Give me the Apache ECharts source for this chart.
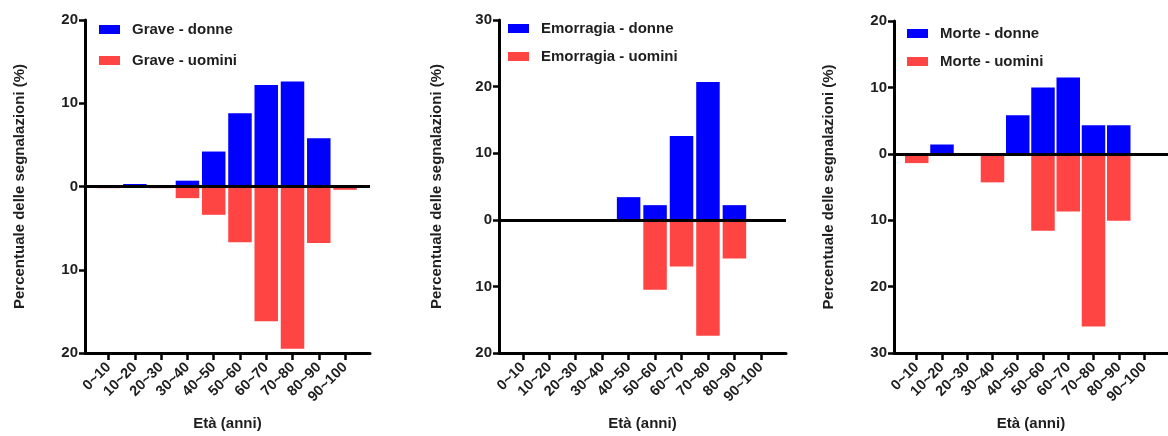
<!DOCTYPE html>
<html>
<head>
<meta charset="utf-8">
<script src="https://cdn.jsdelivr.net/npm/echarts@6/dist/echarts.min.js"></script>
<style>
html,body{margin:0;padding:0;background:#fff;}
#chart{width:1168px;height:436px;}
</style>
</head>
<body>
<div id="chart"></div>
<script>
// ---- data ----
var ageCats = ['0~10','10~20','20~30','30~40','40~50','50~60','60~70','70~80','80~90','90~100'];
var yTicksGrave = [-20, -10, 0, 10, 20];
var yTicksEmorragia = [-20, -10, 0, 10, 20, 30];
var yTicksMorte = [-30, -20, -10, 0, 10, 20];

var graveDonne  = [0.1, 0.3, 0.0, 0.7, 4.2, 8.8, 12.2, 12.6, 5.8, 0.0];
var graveUomini = [0.2, 0.1, 0.2, 1.4, 3.4, 6.7, 16.2, 19.5, 6.8, 0.4];

var emorragiaDonne  = [0, 0, 0, 0, 3.4, 2.2, 12.6, 20.7, 2.2, 0];
var emorragiaUomini = [0, 0, 0, 0, 0, 10.5, 7.0, 17.4, 5.8, 0];

var morteDonne  = [0, 1.4, 0, 0, 5.8, 10.0, 11.5, 4.3, 4.3, 0];
var morteUomini = [1.4, 0, 0, 4.3, 0, 11.6, 8.7, 26.0, 10.1, 0];

var panelNames = ['Grave', 'Emorragia', 'Morte'];

// ---- styles ----
var BLUE = '#0000FF', RED = '#FF4444', TXT = '#1e1e1e';
var FONT = 'Liberation Sans, Arial, sans-serif';

var panels = [
  {name: panelNames[0], donne: graveDonne, uomini: graveUomini, ticks: yTicksGrave,
   grid: {left: 85, top: 20, width: 285, height: 333}, nameGap: 58,
   legend: {left: 99, top: 22, itemGap: 16}},
  {name: panelNames[1], donne: emorragiaDonne, uomini: emorragiaUomini, ticks: yTicksEmorragia,
   grid: {left: 499, top: 20, width: 287, height: 334}, nameGap: 55,
   legend: {left: 508, top: 21, itemGap: 13}},
  {name: panelNames[2], donne: morteDonne, uomini: morteUomini, ticks: yTicksMorte,
   grid: {left: 894, top: 21, width: 286, height: 334}, nameGap: 58,
   legend: {left: 907, top: 26, itemGap: 13}}
];

var idx = ageCats.map(function (c, i) { return i; });

var option = {
  animation: false,
  backgroundColor: '#fff',
  textStyle: {fontFamily: FONT, color: TXT},
  grid: [], xAxis: [], yAxis: [], legend: [], series: []
};

panels.forEach(function (p, k) {
  option.grid.push({left: p.grid.left, top: p.grid.top, width: p.grid.width, height: p.grid.height, containLabel: false});
  option.xAxis.push({
    type: 'value', gridIndex: k, min: -0.9, max: 9.95,
    name: 'Età (anni)', nameLocation: 'middle', nameGap: 63,
    nameTextStyle: {fontSize: 15, fontWeight: 'bold', color: TXT, fontFamily: FONT},
    axisLine: {show: true, onZero: false, lineStyle: {color: '#000', width: 3}},
    axisTick: {show: true, customValues: idx, length: 7, lineStyle: {color: '#000', width: 2.5}},
    axisLabel: {show: true, customValues: idx, rotate: 45, margin: 12, fontSize: 14.5, fontWeight: 'bold', color: TXT, fontFamily: FONT,
      formatter: function (v) { return ageCats[Math.round(v)]; }},
    splitLine: {show: false}
  });
  option.yAxis.push({
    type: 'value', gridIndex: k, min: p.ticks[0], max: p.ticks[p.ticks.length - 1], interval: 10,
    name: 'Percentuale delle segnalazioni (%)', nameLocation: 'middle', nameRotate: 90, nameGap: p.nameGap,
    nameTextStyle: {fontSize: 15, fontWeight: 'bold', color: TXT, fontFamily: FONT},
    axisLine: {show: true, onZero: false, lineStyle: {color: '#000', width: 3}},
    axisTick: {show: true, length: 6, lineStyle: {color: '#000', width: 2.5}},
    axisLabel: {fontSize: 15, fontWeight: 'bold', color: TXT, margin: 7, fontFamily: FONT,
      formatter: function (v) { return String(Math.abs(v)); }},
    splitLine: {show: false}
  });
  var dName = p.name + ' - donne', uName = p.name + ' - uomini';
  option.legend.push({
    orient: 'vertical', left: p.legend.left, top: p.legend.top, itemGap: p.legend.itemGap,
    padding: 0, itemWidth: 21, itemHeight: 9, icon: 'rect',
    data: [dName, uName],
    textStyle: {fontSize: 15, fontWeight: 'bold', color: TXT, fontFamily: FONT, padding: [0, 0, 0, 7]}
  });
  option.series.push({
    name: dName, type: 'bar', xAxisIndex: k, yAxisIndex: k, stack: 'p' + k,
    barWidth: 23.5, itemStyle: {color: BLUE},
    data: p.donne.map(function (v, i) { return [i, v]; }),
    markLine: {silent: true, symbol: 'none', label: {show: false},
      lineStyle: {color: '#000', width: 3, type: 'solid'}, data: [{yAxis: 0}]},
    z: 2
  });
  option.series.push({
    name: uName, type: 'bar', xAxisIndex: k, yAxisIndex: k, stack: 'p' + k,
    barWidth: 23.5, itemStyle: {color: RED},
    data: p.uomini.map(function (v, i) { return [i, -v]; }),
    z: 2
  });
});

var chart = echarts.init(document.getElementById('chart'), null, {renderer: 'canvas'});
chart.setOption(option);
</script>
</body>
</html>
